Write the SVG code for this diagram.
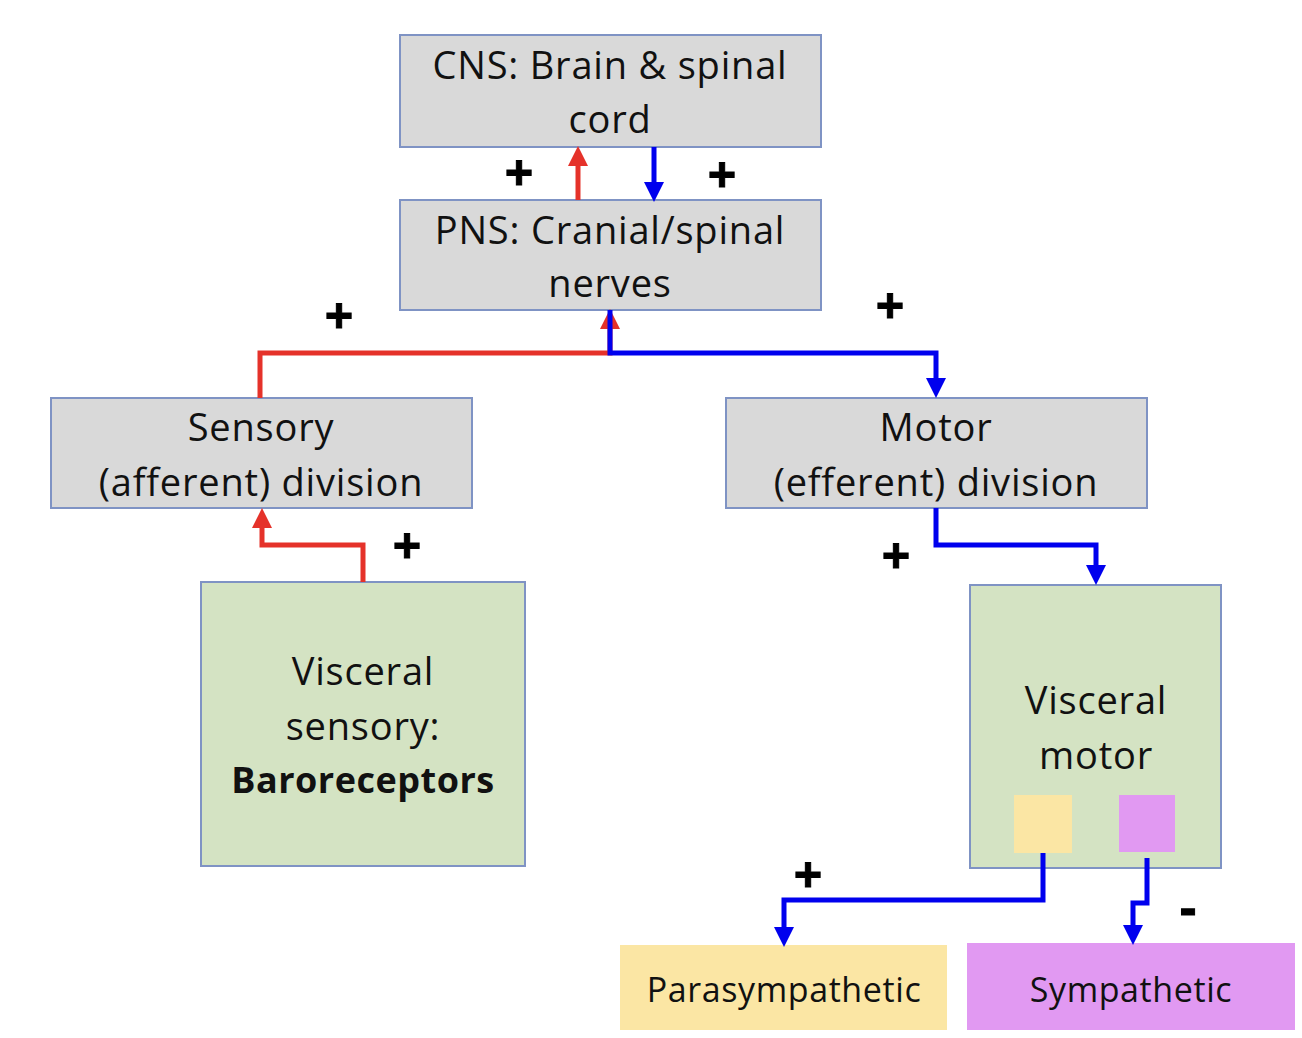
<svg xmlns="http://www.w3.org/2000/svg" width="1302" height="1038" viewBox="0 0 1302 1038">
<defs>
<style>
.box{fill:#d9d9d9;stroke:#7f93c4;stroke-width:2}
.green{fill:#d4e3c3;stroke:#7f93c4;stroke-width:2}
.t{font-family:"Open Sans","Noto Sans",sans-serif;font-size:38px;letter-spacing:0.8px;fill:#111;text-anchor:middle}
.b{font-weight:bold;font-size:36px;letter-spacing:0.5px}
.s{font-size:34px;letter-spacing:0.6px}
.sign{font-family:"Open Sans","Noto Sans",sans-serif;font-weight:bold;font-size:50px;fill:#000;stroke:#000;stroke-width:1;text-anchor:middle}
.red{fill:none;stroke:#e5322a;stroke-width:5}
.blue{fill:none;stroke:#0000ee;stroke-width:5}
</style>
<marker id="ahr" markerUnits="userSpaceOnUse" markerWidth="20" markerHeight="20" refX="0" refY="9" orient="auto" viewBox="0 0 18 18">
<path d="M0,0 L18,9 L0,18 Z" fill="#e5322a"/>
</marker>
<marker id="ahb" markerUnits="userSpaceOnUse" markerWidth="20" markerHeight="20" refX="0" refY="9" orient="auto" viewBox="0 0 18 18">
<path d="M0,0 L18,9 L0,18 Z" fill="#0000ee"/>
</marker>
</defs>
<rect width="1302" height="1038" fill="#fff"/>
<g id="cns">
<rect class="box" x="400" y="35" width="421" height="112"/>
<text class="t" x="610" y="79">CNS: Brain &amp; spinal</text>
<text class="t" x="610" y="133">cord</text>
</g>
<g id="pns">
<rect class="box" x="400" y="200" width="421" height="110"/>
<text class="t" x="610" y="244">PNS: Cranial/spinal</text>
<text class="t" x="610" y="297">nerves</text>
</g>
<g id="sensory">
<rect class="box" x="51" y="398" width="421" height="110"/>
<text class="t" x="261" y="441">Sensory</text>
<text class="t" x="261" y="496">(afferent) division</text>
</g>
<g id="motor">
<rect class="box" x="726" y="398" width="421" height="110"/>
<text class="t" x="936" y="441">Motor</text>
<text class="t" x="936" y="496">(efferent) division</text>
</g>
<g id="visceral-sensory">
<rect class="green" x="201" y="582" width="324" height="284"/>
<text class="t" x="363" y="685">Visceral</text>
<text class="t" x="363" y="740">sensory:</text>
<text class="t b" x="363" y="793">Baroreceptors</text>
</g>
<g id="visceral-motor">
<rect class="green" x="970" y="585" width="251" height="283"/>
<text class="t" x="1096" y="714">Visceral</text>
<text class="t" x="1096" y="769">motor</text>
<rect x="1014" y="795" width="58" height="58" fill="#fbe6a4"/>
<rect x="1119" y="795" width="56" height="57" fill="#e199f2"/>
</g>
<g id="parasympathetic">
<rect x="620" y="945" width="327" height="85" fill="#fbe6a4"/>
<text class="t s" x="784" y="1002">Parasympathetic</text>
</g>
<g id="sympathetic">
<rect x="967" y="943" width="328" height="87" fill="#e199f2"/>
<text class="t s" x="1131" y="1002">Sympathetic</text>
</g>
<g id="connectors">
<path class="red" d="M578,200 V166" marker-end="url(#ahr)"/>
<path class="blue" d="M654,147 V182" marker-end="url(#ahb)"/>
<path class="red" d="M260,398 V353 H610 V329" marker-end="url(#ahr)"/>
<path class="blue" d="M610,310 V353 H936 V378" marker-end="url(#ahb)"/>
<path class="red" d="M363,582 V545 H262 V528" marker-end="url(#ahr)"/>
<path class="blue" d="M936,508 V545 H1096 V565" marker-end="url(#ahb)"/>
<path class="blue" d="M1043,853 V900 H784 V927" marker-end="url(#ahb)"/>
<path class="blue" d="M1147,858 V903 H1133 V925" marker-end="url(#ahb)"/>
</g>
<g id="signs">
<text class="sign" x="519" y="191">+</text>
<text class="sign" x="722" y="193">+</text>
<text class="sign" x="339" y="334">+</text>
<text class="sign" x="890" y="324">+</text>
<text class="sign" x="407" y="564">+</text>
<text class="sign" x="896" y="574">+</text>
<text class="sign" x="808" y="893">+</text>
<text class="sign" x="1188" y="925">-</text>
</g>
</svg>
